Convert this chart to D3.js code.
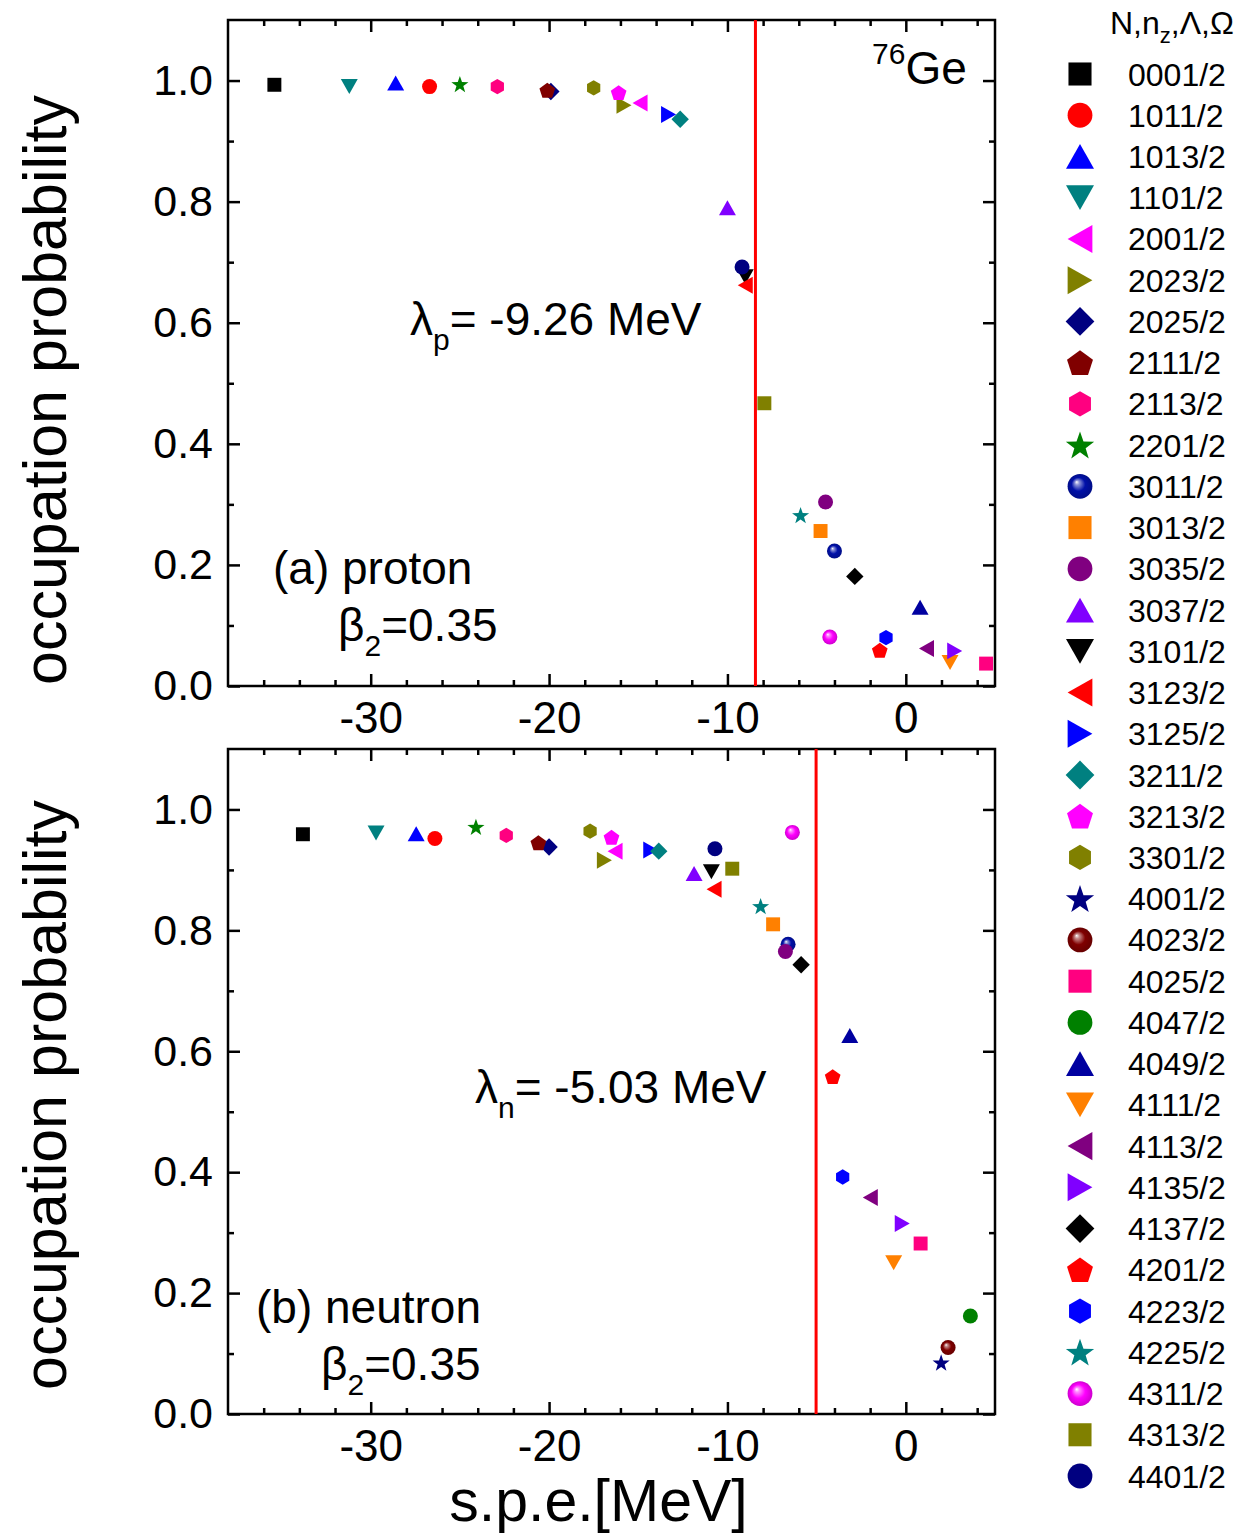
<!DOCTYPE html>
<html>
<head>
<meta charset="utf-8">
<script src="https://cdn.jsdelivr.net/npm/d3@7"></script>
<style>
  body { margin: 0; background: #fff; }
  text { font-family: "Liberation Sans", Arial, sans-serif; fill: #000; }
</style>
</head>
<body>
<div id="chart"></div>
<script>
// Nilsson levels N,nz,Lambda,Omega (legend order)
var levels = ["0001/2", "1011/2", "1013/2", "1101/2", "2001/2", "2023/2", "2025/2", "2111/2",
  "2113/2", "2201/2", "3011/2", "3013/2", "3035/2", "3037/2", "3101/2", "3123/2", "3125/2",
  "3211/2", "3213/2", "3301/2", "4001/2", "4023/2", "4025/2", "4047/2", "4049/2", "4111/2",
  "4113/2", "4135/2", "4137/2", "4201/2", "4223/2", "4225/2", "4311/2", "4313/2", "4401/2"];

// proton single particle energies (MeV) and occupation probabilities (null = not shown)
var protonE = [-35.4, -26.7, -28.6, -31.2, -14.9, -15.8, -19.9, -20.1,
  -22.9, -25.0, -4.0, -4.78, -4.5, -10.0, -9.0, -9.0, -13.3,
  -12.65, -16.1, -17.5, null, null, 4.5, null, 0.8, 2.48,
  1.16, 2.74, -2.86, -1.46, -1.11, -5.9, -4.26, -7.93, -9.18];
var protonP = [0.993, 0.990, 0.996, 0.990, 0.963, 0.959, 0.982, 0.984,
  0.990, 0.994, 0.223, 0.256, 0.304, 0.790, 0.676, 0.662, 0.944,
  0.936, 0.980, 0.988, null, null, 0.037, null, 0.130, 0.039,
  0.062, 0.058, 0.181, 0.059, 0.080, 0.282, 0.081, 0.467, 0.692];

// neutron
var neutronE = [-33.8, -26.4, -27.45, -29.7, -16.3, -16.9, -20.0, -20.6,
  -22.4, -24.1, -6.6, -7.44, -6.75, -11.87, -10.9, -10.75, -14.3,
  -13.85, -16.5, -17.7, 1.98, 2.37, 0.83, 3.62, -3.14, -0.68,
  -1.99, -0.2, -5.87, -4.1, -3.54, -8.14, -6.36, -9.73, -10.7];
var neutronP = [0.959, 0.952, 0.960, 0.961, 0.931, 0.916, 0.938, 0.945,
  0.957, 0.971, 0.777, 0.810, 0.765, 0.894, 0.897, 0.868, 0.933,
  0.931, 0.954, 0.964, 0.085, 0.110, 0.282, 0.162, 0.626, 0.250,
  0.358, 0.315, 0.743, 0.558, 0.392, 0.840, 0.962, 0.902, 0.935];

var fermiLine = [-8.43, -5.03];
var lambdaText = ["= -9.26 MeV", "= -5.03 MeV"];
var xMajor = [-30, -20, -10, 0];
var yMajor = [0, 0.2, 0.4, 0.6, 0.8, 1.0];

// marker style per level
var shapes = ["square", "circle", "up", "down", "left", "right", "diamond", "pentagon",
  "hexagon", "star", "ball", "square", "circle", "up", "down", "left", "right",
  "diamond", "pentagon", "hexagon", "star", "ball", "square", "circle", "up", "down",
  "left", "right", "diamond", "pentagon", "hexagon", "star", "ball", "square", "circle"];
var colors = ["#000000", "#ff0000", "#0000ff", "#008080", "#ff00ff", "#808000", "#000080", "#800000",
  "#ff0080", "#008000", "#0010a8", "#ff8000", "#800080", "#8000ff", "#000000", "#ff0000", "#0000ff",
  "#008080", "#ff00ff", "#808000", "#000080", "#800000", "#ff0080", "#008000", "#0000a0", "#ff8000",
  "#800080", "#8000ff", "#000000", "#ff0000", "#0000ff", "#008080", "#ff00ff", "#808000", "#000080"];

var W = 1245, H = 1534;
var left = 228, right = 995;

var svg = d3.select("#chart").append("svg")
    .attr("width", W)
    .attr("height", H);

svg.append("rect").attr("width", W).attr("height", H).attr("fill", "#fff");

var defs = svg.append("defs");
colors.forEach(function (c, i) {
  if (shapes[i] !== "ball") return;
  var g = defs.append("radialGradient")
      .attr("id", "ball" + i)
      .attr("cx", 0.5).attr("cy", 0.5).attr("r", 0.5)
      .attr("fx", 0.36).attr("fy", 0.32);
  g.append("stop").attr("offset", "0%").attr("stop-color", "#fff");
  g.append("stop").attr("offset", "18%").attr("stop-color", d3.interpolateRgb("#fff", c)(0.45));
  g.append("stop").attr("offset", "55%").attr("stop-color", c);
  g.append("stop").attr("offset", "100%").attr("stop-color", d3.color(c).darker(0.6));
});

// marker outline around (0,0) for a given size r
function shapePath(shape, r) {
  var p = d3.path(), k, a;
  function poly(pts) {
    p.moveTo(pts[0][0], pts[0][1]);
    for (k = 1; k < pts.length; k++) p.lineTo(pts[k][0], pts[k][1]);
    p.closePath();
  }
  var w = 1.13 * r;
  switch (shape) {
    case "circle":
    case "ball":
      p.arc(0, 0, r, 0, 2 * Math.PI);
      break;
    case "square":
      p.rect(-0.93 * r, -0.93 * r, 1.86 * r, 1.86 * r);
      break;
    case "up": poly([[0, -r], [w, r], [-w, r]]); break;
    case "down": poly([[0, r], [w, -r], [-w, -r]]); break;
    case "left": poly([[-r, 0], [r, -w], [r, w]]); break;
    case "right": poly([[r, 0], [-r, -w], [-r, w]]); break;
    case "diamond":
      a = 1.16 * r;
      poly([[0, -a], [a, 0], [0, a], [-a, 0]]);
      break;
    case "pentagon":
      var pts = [];
      for (k = 0; k < 5; k++) {
        a = -Math.PI / 2 + k * 2 * Math.PI / 5;
        pts.push([1.1 * r * Math.cos(a), 1.1 * r * Math.sin(a) + 0.1 * r]);
      }
      poly(pts);
      break;
    case "hexagon":
      var hx = [];
      for (k = 0; k < 6; k++) {
        a = -Math.PI / 2 + k * Math.PI / 3;
        hx.push([1.02 * r * Math.cos(a), 1.02 * r * Math.sin(a)]);
      }
      poly(hx);
      break;
    case "star":
      var st = [];
      for (k = 0; k < 10; k++) {
        a = -Math.PI / 2 + k * Math.PI / 5;
        var rr = k % 2 ? 0.48 * r : 1.2 * r;
        st.push([rr * Math.cos(a), rr * Math.sin(a) + 0.1 * r]);
      }
      poly(st);
      break;
  }
  return p.toString();
}

function fillOf(i) {
  return shapes[i] === "ball" ? "url(#ball" + i + ")" : colors[i];
}

var x = d3.scaleLinear().domain([-38, 5]).range([left, right]);
var xMinor = d3.range(-36, 5, 2);
var yMinor = d3.range(0, 11).map(function (d) { return d / 10; });

var panels = [
  { top: 20, bottom: 686, E: protonE, P: protonP, name: "(a) proton", lam: "p", labelY: 390 },
  { top: 749, bottom: 1414, E: neutronE, P: neutronP, name: "(b) neutron", lam: "n", labelY: 1095 }
];

panels.forEach(function (pn, pi) {
  var y = d3.scaleLinear().domain([0, 1.1]).range([pn.bottom, pn.top]);
  var g = svg.append("g");

  // inward ticks on all four sides
  function addAxis(axis, tf, noLabels) {
    var a = g.append("g").attr("transform", tf).call(axis);
    a.select(".domain").remove();
    a.selectAll("line").attr("stroke", "#000").attr("stroke-width", 2.5);
    if (noLabels) a.selectAll("text").remove();
    return a;
  }
  var bx = addAxis(d3.axisBottom(x).tickValues(xMajor).tickSizeInner(-12).tickPadding(16)
      .tickFormat(d3.format("d")), "translate(0," + pn.bottom + ")");
  bx.selectAll("text").attr("font-size", 44).attr("dy", "0.71em")
      .text(function (d) { return d === 0 ? "0" : d; });
  addAxis(d3.axisBottom(x).tickValues(xMinor.filter(function (d) { return d % 10; })).tickSizeInner(-6), "translate(0," + pn.bottom + ")", true);
  addAxis(d3.axisTop(x).tickValues(xMajor).tickSizeInner(-12), "translate(0," + pn.top + ")", true);
  addAxis(d3.axisTop(x).tickValues(xMinor.filter(function (d) { return d % 10; })).tickSizeInner(-6), "translate(0," + pn.top + ")", true);

  var ly = addAxis(d3.axisLeft(y).tickValues(yMajor).tickSizeInner(-12).tickPadding(15)
      .tickFormat(d3.format(".1f")), "translate(" + left + ",0)");
  ly.selectAll("text").attr("font-size", 43);
  addAxis(d3.axisLeft(y).tickValues(yMinor.filter(function (d, i) { return i % 2; })).tickSizeInner(-6), "translate(" + left + ",0)", true);
  addAxis(d3.axisRight(y).tickValues(yMajor).tickSizeInner(-12), "translate(" + right + ",0)", true);
  addAxis(d3.axisRight(y).tickValues(yMinor.filter(function (d, i) { return i % 2; })).tickSizeInner(-6), "translate(" + right + ",0)", true);

  // frame
  g.append("rect")
      .attr("x", left).attr("y", pn.top)
      .attr("width", right - left).attr("height", pn.bottom - pn.top)
      .attr("fill", "none").attr("stroke", "#000").attr("stroke-width", 2.5);

  // Fermi level
  g.append("line")
      .attr("x1", x(fermiLine[pi])).attr("x2", x(fermiLine[pi]))
      .attr("y1", pn.top).attr("y2", pn.bottom)
      .attr("stroke", "#ff0000").attr("stroke-width", 3);

  // points
  var pts = levels.map(function (l, i) { return { i: i, e: pn.E[i], v: pn.P[i] }; })
      .filter(function (d) { return d.e !== null; });
  g.selectAll("path.pt").data(pts).enter().append("path")
      .attr("class", "pt")
      .attr("transform", function (d) { return "translate(" + x(d.e) + "," + y(d.v) + ")"; })
      .attr("d", function (d) { return shapePath(shapes[d.i], 7.5); })
      .attr("fill", function (d) { return fillOf(d.i); });

  // y label
  g.append("text")
      .attr("transform", "translate(66," + pn.labelY + ") rotate(-90)")
      .attr("text-anchor", "middle")
      .attr("font-size", 61)
      .text("occupation probability");

  // annotations
  var lamX = pi === 0 ? 410 : 475, lamY = pi === 0 ? 335 : 1103;
  var t = g.append("text").attr("x", lamX).attr("y", lamY).attr("font-size", 46);
  t.append("tspan").text("λ");
  t.append("tspan").attr("font-size", 30).attr("dy", 15).text(pn.lam);
  t.append("tspan").attr("dy", -15).text(lambdaText[pi]);

  var nameX = pi === 0 ? 273 : 256, nameY = pi === 0 ? 584 : 1323;
  g.append("text").attr("x", nameX).attr("y", nameY).attr("font-size", 46).text(pn.name);
  var b = g.append("text").attr("x", nameX + 65).attr("y", nameY + 57).attr("font-size", 46);
  b.append("tspan").text("β");
  b.append("tspan").attr("font-size", 30).attr("dy", 15).text("2");
  b.append("tspan").attr("dy", -15).text("=0.35");
});

// nucleus label
var ge = svg.append("text").attr("x", 872).attr("y", 84).attr("font-size", 46);
ge.append("tspan").attr("font-size", 30).attr("dy", -20).text("76");
ge.append("tspan").attr("dy", 20).text("Ge");

// x label
svg.append("text")
    .attr("x", (left + right) / 2 - 13).attr("y", 1521)
    .attr("text-anchor", "middle")
    .attr("font-size", 59)
    .text("s.p.e.[MeV]");

// legend
var lgy = d3.scaleLinear().domain([0, levels.length - 1]).range([74, 1476]);
var title = svg.append("text").attr("x", 1110).attr("y", 34).attr("font-size", 32);
title.append("tspan").text("N,n");
title.append("tspan").attr("font-size", 22).attr("dy", 9).text("z");
title.append("tspan").attr("dy", -9).text(",Λ,Ω");

var leg = svg.selectAll("g.leg").data(levels).enter().append("g")
    .attr("class", "leg")
    .attr("transform", function (d, i) { return "translate(0," + lgy(i) + ")"; });
leg.append("path")
    .attr("transform", "translate(1080,0)")
    .attr("d", function (d, i) { return shapePath(shapes[i], 12.4); })
    .attr("fill", function (d, i) { return fillOf(i); });
leg.append("text")
    .attr("x", 1128).attr("dy", "0.36em")
    .attr("font-size", 32)
    .text(function (d) { return d; });
</script>
</body>
</html>
